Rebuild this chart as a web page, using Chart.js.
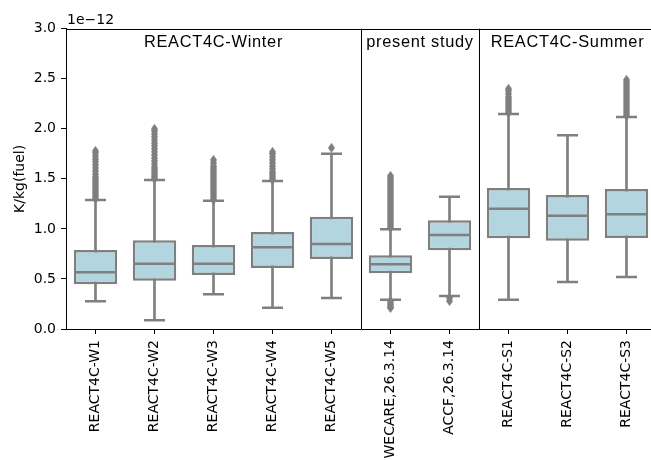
<!DOCTYPE html>
<html><head><meta charset="utf-8">
<script src="https://cdn.jsdelivr.net/npm/chart.js@4/dist/chart.umd.min.js"></script>
<style>html,body{margin:0;padding:0;overflow:hidden;background:#fff;width:651px;height:460px}</style>
</head><body>
<canvas id="c" width="680" height="480" style="display:block;width:680px;height:480px"></canvas>
<script>
// ---- data (units of 1e-12 K/kg(fuel)) ----
const categories = ['REACT4C-W1','REACT4C-W2','REACT4C-W3','REACT4C-W4','REACT4C-W5','WECARE,26.3.14','ACCF,26.3.14','REACT4C-S1','REACT4C-S2','REACT4C-S3'];
const q1Values     = [0.446,0.483,0.539,0.609,0.700,0.556,0.786,0.906,0.882,0.909];
const medianValues = [0.566,0.652,0.652,0.816,0.849,0.646,0.939,1.202,1.132,1.146];
const q3Values     = [0.790,0.886,0.839,0.969,1.122,0.736,1.086,1.409,1.339,1.399];
const lowWhisker   = [0.277,0.087,0.347,0.213,0.310,0.293,0.330,0.293,0.470,0.520];
const highWhisker  = [1.289,1.488,1.282,1.478,1.751,0.996,1.322,2.148,1.935,2.118];
const fliersW1 = [1.30,1.32,1.34,1.36,1.38,1.40,1.42,1.44,1.46,1.48,1.50,1.52,1.55,1.58,1.61,1.64,1.67,1.70,1.73,1.76,1.78];
const fliersW2 = [1.50,1.52,1.54,1.56,1.58,1.60,1.62,1.65,1.68,1.71,1.74,1.77,1.80,1.83,1.86,1.89,1.92,1.95,1.98,2.00];
const fliersW3 = [1.29,1.31,1.33,1.35,1.37,1.39,1.41,1.43,1.45,1.47,1.49,1.51,1.53,1.55,1.57,1.59,1.61,1.63,1.66,1.69];
const fliersW4 = [1.49,1.51,1.53,1.55,1.57,1.60,1.63,1.66,1.69,1.72,1.75,1.77];
const fliersW5 = [1.81];
const fliersWECARE = [0.21,0.22,0.24,0.26,0.28,1.01,1.03,1.05,1.07,1.09,1.11,1.13,1.15,1.17,1.19,1.21,1.23,1.25,1.27,1.29,1.31,1.33,1.35,1.37,1.39,1.41,1.43,1.45,1.47,1.49,1.51,1.53];
const fliersACCF = [0.28,0.31];
const fliersS1 = [2.16,2.18,2.20,2.22,2.24,2.26,2.28,2.30,2.32,2.35,2.38,2.40];
const fliersS2 = [];
const fliersS3 = [2.13,2.15,2.17,2.19,2.21,2.23,2.25,2.27,2.29,2.31,2.33,2.35,2.37,2.39,2.41,2.43,2.45,2.47,2.49];
const yTicks = [0.0,0.5,1.0,1.5,2.0,2.5,3.0];
const groupNames = ['REACT4C-Winter','present study','REACT4C-Summer'];
const groupFirst = [0,5,7];
const groupLast  = [4,6,9];

// ---- styles ----
const GRAY = '#7f7f7f';
const BOX = '#b2d5e0';
const allFliers = [fliersW1,fliersW2,fliersW3,fliersW4,fliersW5,fliersWECARE,fliersACCF,fliersS1,fliersS2,fliersS3];
const flierPoints = categories.flatMap((c,i)=>allFliers[i].map(v=>({x:c,y:v})));

const diamond = document.createElement('canvas');
diamond.width = 7; diamond.height = 10;
(function(){const g=diamond.getContext('2d');g.fillStyle=GRAY;g.beginPath();g.moveTo(3.5,0);g.lineTo(7,5);g.lineTo(3.5,10);g.lineTo(0,5);g.closePath();g.fill();})();

const extras = {
  id:'extras',
  afterDraw(chart){
    const {ctx, chartArea:a, scales:{x}} = chart;
    ctx.save();
    ctx.strokeStyle = '#000'; ctx.lineWidth = 1;
    ctx.beginPath(); ctx.moveTo(a.left, Math.round(a.top)+0.5); ctx.lineTo(a.right, Math.round(a.top)+0.5); ctx.stroke();
    for (let g=0; g<groupNames.length-1; g++){
      const px = Math.floor((x.getPixelForValue(groupLast[g]) + x.getPixelForValue(groupFirst[g+1]))/2)+0.5;
      ctx.beginPath(); ctx.moveTo(px, a.top); ctx.lineTo(px, a.bottom); ctx.stroke();
    }
    ctx.fillStyle = '#000';
    ctx.font = '16.4px "Liberation Sans", Arial, sans-serif';
    ctx.letterSpacing = '0.7px';
    ctx.textAlign = 'center'; ctx.textBaseline = 'alphabetic';
    for (let g=0; g<groupNames.length; g++){
      const cx = (x.getPixelForValue(groupFirst[g]) + x.getPixelForValue(groupLast[g]))/2;
      ctx.fillText(groupNames[g], cx, a.top + 18.5);
    }
    ctx.letterSpacing = '0px';
    ctx.font = '14px "DejaVu Sans", sans-serif';
    ctx.textAlign = 'left';
    ctx.fillText('1e\u221212', a.left + 1, 24);
    ctx.translate(23.5, (a.top + a.bottom)/2);
    ctx.rotate(-Math.PI/2);
    ctx.textAlign = 'center';
    ctx.fillText('K/kg(fuel)', 0, 0);
    ctx.restore();
  }
};

new Chart(document.getElementById('c'), {
  type:'bar',
  data:{
    labels: categories,
    datasets:[
      {type:'bar', data: categories.map((c,i)=>[lowWhisker[i], highWhisker[i]]), backgroundColor: GRAY, borderWidth:0, barThickness:2, grouped:false, order:5},
      {type:'bar', data: categories.map((c,i)=>[q1Values[i], q3Values[i]]), backgroundColor: BOX, borderColor: GRAY, borderWidth:2.5, borderSkipped:false, barPercentage:0.735, categoryPercentage:1, grouped:false, order:4},
      {type:'line', data: medianValues, showLine:false, pointStyle:'line', pointRadius:21.5, pointBorderWidth:2.5, pointBorderColor:GRAY, order:2},
      {type:'line', data: lowWhisker, showLine:false, pointStyle:'line', pointRadius:10.5, pointBorderWidth:2.5, pointBorderColor:GRAY, order:2},
      {type:'line', data: highWhisker, showLine:false, pointStyle:'line', pointRadius:10.5, pointBorderWidth:2.5, pointBorderColor:GRAY, order:2},
      {type:'line', data: flierPoints, showLine:false, pointStyle: diamond, pointRadius:5, order:1}
    ]
  },
  options:{
    responsive:false, devicePixelRatio:1, animation:false, events:[],
    layout:{padding:{left:0, top:28.7, right:19, bottom:0}},
    plugins:{legend:{display:false}, tooltip:{enabled:false}},
    scales:{
      x:{
        type:'category', offset:true,
        grid:{display:true, offset:false, drawOnChartArea:false, drawTicks:true, tickLength:5, color:'#000'},
        border:{display:true, color:'#000', width:1},
        ticks:{autoSkip:false, maxRotation:90, minRotation:90, padding:6, color:'#000', font:{family:'"DejaVu Sans"', size:14}},
        afterFit(s){ s.height = 151; }
      },
      y:{
        min:0, max:3,
        afterBuildTicks(s){ s.ticks = yTicks.map(v=>({value:v})); },
        grid:{display:true, drawOnChartArea:false, drawTicks:true, tickLength:5, color:'#000'},
        border:{display:true, color:'#000', width:1},
        ticks:{padding:5, color:'#000', font:{family:'"DejaVu Sans"', size:14}, callback:v=>Number(v).toFixed(1)},
        afterFit(s){ s.width = 66; }
      }
    }
  },
  plugins:[extras]
});
</script></body></html>
